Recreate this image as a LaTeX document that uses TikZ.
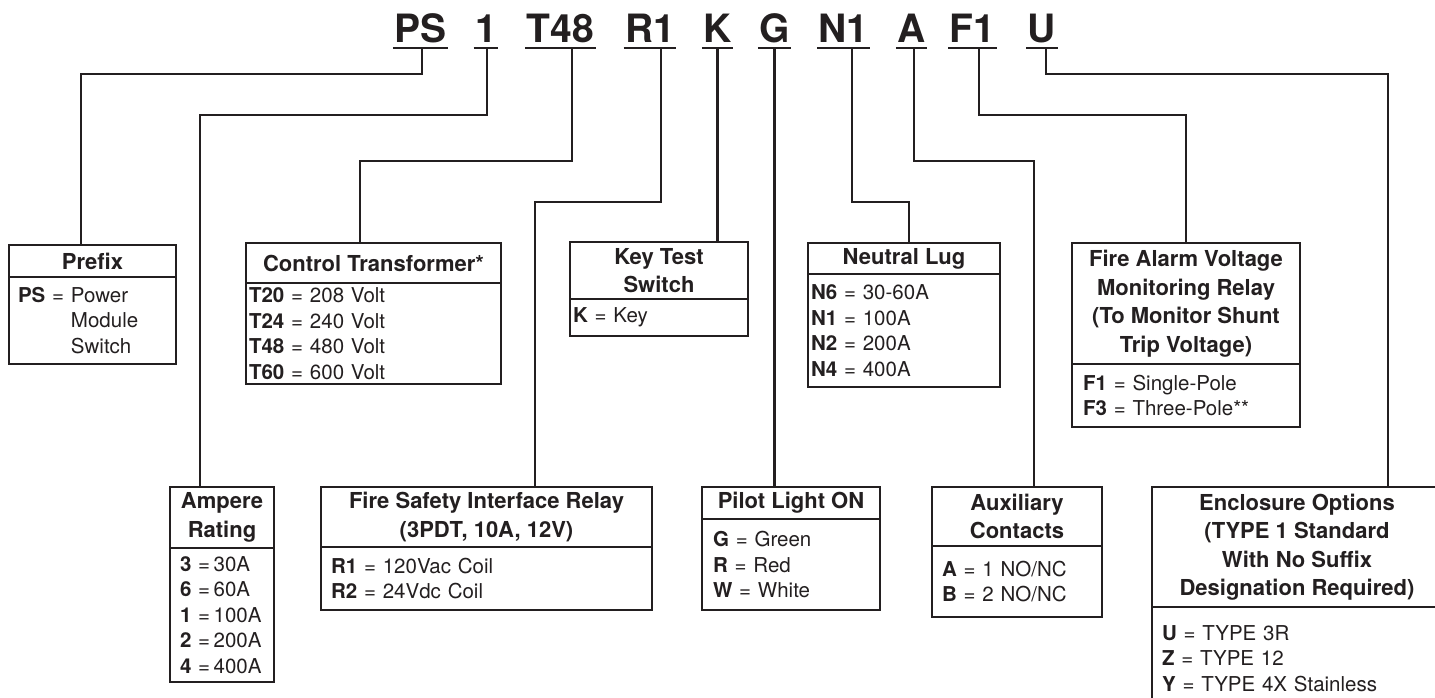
\documentclass[tikz,border=0pt]{standalone}
\usepackage{fontspec}
\setmainfont{TeX Gyre Heros}
\usetikzlibrary{positioning}
\definecolor{ink}{HTML}{231F20}

\tikzset{
  code/.style={font=\fontsize{39}{39}\selectfont\bfseries, anchor=base, inner xsep=1.5pt, inner ysep=0pt, text depth=5pt, outer sep=0pt},
  uline/.style={line width=2.6pt},
  wire/.style={line width=2.2pt},
  hdr/.style={draw, line width=2.5pt, outer sep=0pt, inner sep=0pt, align=center, anchor=north west, font=\fontsize{22}{28.5}\selectfont\bfseries},
  bdy/.style={draw, line width=2.5pt, outer sep=0pt, inner ysep=0pt, align=left, anchor=north west, font=\fontsize{20.5}{25.5}\selectfont},
}

\begin{document}
\begin{tikzpicture}[x=1pt, y=-1pt, color=ink]
\useasboundingbox (0,0) rectangle (1435,698);
\clip (0,0) rectangle (1435,698);

% catalogue number
\node[code] (cPS) at (420.5,43) {PS};
\node[code] (c1) at (486,43) {1};
\node[code] (cT) at (560.5,43) {T48};
\node[code] (cR) at (650,43) {R1};
\node[code] (cK) at (717.5,43) {K};
\node[code] (cG) at (774.5,43) {G};
\node[code] (cN) at (843.5,43) {N1};
\node[code] (cA) at (911.5,43) {A};
\node[code] (cF) at (972.5,43) {F1};
\node[code] (cU) at (1042,43) {U};
\foreach \n in {cPS,c1,cT,cR,cK,cG,cN,cA,cF,cU}
  \draw[uline] (\n.south west) -- (\n.south east);

% upper row
\node[hdr, minimum width=167, minimum height=32] (pfx) at (9,245) {Prefix};
\node[bdy, text width=149, inner xsep=9, minimum height=87] (pfxb) at (pfx.south west)
  {\textbf{PS} = Power\\\hphantom{\textbf{PS} = }Module\\\hphantom{\textbf{PS} = }Switch};

\node[hdr, minimum width=255, minimum height=40] (ctr) at (246,243) {Control Transformer*};
\node[bdy, text width=249, inner xsep=3, minimum height=101] (ctrb) at (ctr.south west)
  {\textbf{T20} = 208 Volt\\\textbf{T24} = 240 Volt\\\textbf{T48} = 480 Volt\\\textbf{T60} = 600 Volt};

\node[hdr, minimum width=178, minimum height=57] (key) at (570,242) {Key Test\\Switch};
\node[bdy, text width=172, inner xsep=3, minimum height=37] (keyb) at (key.south west)
  {\textbf{K} = Key};

\node[hdr, minimum width=192, minimum height=31] (neu) at (808,243) {Neutral Lug};
\node[bdy, text width=186, inner xsep=3, minimum height=113] (neub) at (neu.south west)
  {\textbf{N6} = 30-60A\\\textbf{N1} = 100A\\\textbf{N2} = 200A\\\textbf{N4} = 400A};

\node[hdr, minimum width=228, minimum height=121] (far) at (1072,243)
  {Fire Alarm Voltage\\Monitoring Relay\\(To Monitor Shunt\\Trip Voltage)};
\node[bdy, text width=206, inner xsep=11, minimum height=63] (farb) at (far.south west)
  {\textbf{F1} = Single-Pole\\\textbf{F3} = Three-Pole**};

% lower row
\node[hdr, minimum width=104, minimum height=61] (amp) at (170,487) {Ampere\\Rating};
\node[bdy, text width=84, inner xsep=10, minimum height=134] (ampb) at (amp.south west)
  {\textbf{3} =\,30A\\\textbf{6} =\,60A\\\textbf{1} =\,100A\\\textbf{2} =\,200A\\\textbf{4} =\,400A};

\node[hdr, minimum width=331, minimum height=60] (fsr) at (321,487)
  {Fire Safety Interface Relay\\(3PDT, 10A, 12V)};
\node[bdy, text width=311, inner xsep=10, minimum height=63] (fsrb) at (fsr.south west)
  {\textbf{R1} = 120Vac Coil\\\textbf{R2} = 24Vdc Coil};

\node[hdr, minimum width=178, minimum height=32] (pil) at (702,487) {Pilot Light ON};
\node[bdy, text width=156, inner xsep=11, minimum height=91] (pilb) at (pil.south west)
  {\textbf{G} = Green\\\textbf{R} = Red\\\textbf{W} = White};

\node[hdr, minimum width=170, minimum height=59] (aux) at (932,487) {Auxiliary\\Contacts};
\node[bdy, text width=150, inner xsep=10, minimum height=71] (auxb) at (aux.south west)
  {\textbf{A} = 1 NO/NC\\\textbf{B} = 2 NO/NC};

\node[hdr, minimum width=290, minimum height=120] (enc) at (1152,487)
  {Enclosure Options\\(TYPE 1 Standard\\With No Suffix\\Designation Required)};
\node[bdy, text width=270, inner xsep=10, minimum height=103] (encb) at (enc.south west)
  {\textbf{U} = TYPE 3R\\\textbf{Z} = TYPE 12\\\textbf{Y} = TYPE 4X Stainless};

% leaders
\draw[wire] ([xshift=1.5pt]cPS.south) -- ++(0,26) -| ([xshift=72pt]pfx.north west);
\draw[wire] ([xshift=1pt]c1.south) -- ++(0,67) -| ([xshift=30pt]amp.north west);
\draw[wire] ([xshift=11.5pt]cT.south) -- ++(0,113) -| ([xshift=114pt]ctr.north west);
\draw[wire] ([xshift=11pt]cR.south) -- ++(0,154) -| ([xshift=214pt]fsr.north west);
\draw[wire] (cK.south) -- (cK.south |- key.north);
\draw[wire] (cG.south) -- (cG.south |- pil.north);
\draw[wire] ([xshift=8.5pt]cN.south) -- ++(0,154) -| ([xshift=101pt]neu.north west);
\draw[wire] ([xshift=2.5pt]cA.south) -- ++(0,113) -| ([xshift=102pt]aux.north west);
\draw[wire] ([xshift=6.5pt]cF.south) -- ++(0,67) -| ([xshift=114pt]far.north west);
\draw[wire] ([xshift=4pt]cU.south) -- ++(0,26) -| ([xshift=236pt]enc.north west);
\end{tikzpicture}
\end{document}
